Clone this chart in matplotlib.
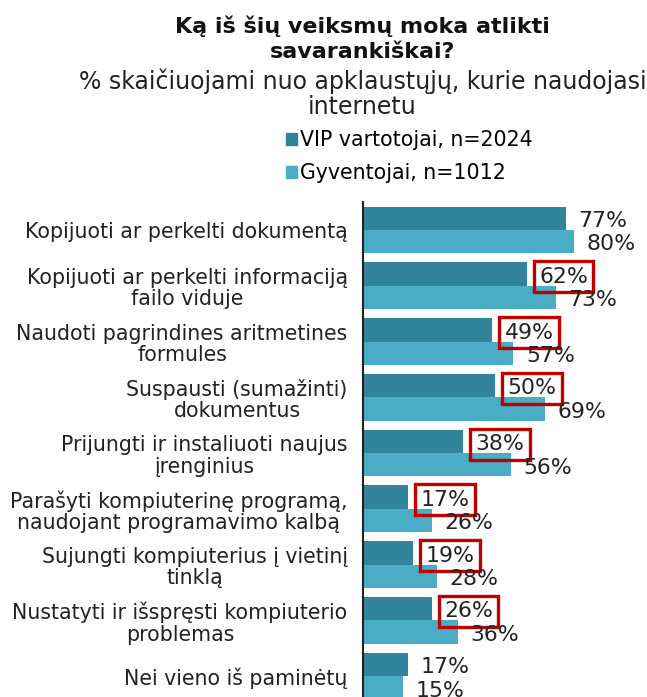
import matplotlib.pyplot as plt
import numpy as np
from matplotlib.patches import Patch

plt.rcParams['font.family'] = ['DejaVu Sans']

categories = [
    'Kopijuoti ar perkelti dokumentą',
    'Kopijuoti ar perkelti informaciją\nfailo viduje',
    'Naudoti pagrindines aritmetines\nformules',
    'Suspausti (sumažinti)\ndokumentus',
    'Prijungti ir instaliuoti naujus\nįrenginius',
    'Parašyti kompiuterinę programą,\nnaudojant programavimo kalbą',
    'Sujungti kompiuterius į vietinį\ntinklą',
    'Nustatyti ir išspręsti kompiuterio\nproblemas',
    'Nei vieno iš paminėtų',
]
vip = [77, 62, 49, 50, 38, 17, 19, 26, 17]
gyv = [80, 73, 57, 69, 56, 26, 28, 36, 15]
highlight = [False, True, True, True, True, True, True, True, False]

series_names = ['VIP vartotojai, n=2024', 'Gyventojai, n=1012']
c_vip = '#31849B'
c_gyv = '#4BACC6'
txt = '#222222'
fs = 14.8

fig = plt.figure(figsize=(6.47, 6.97), dpi=100)
ax = fig.add_axes([0.561, -0.010, 0.408, 0.720])

y = np.arange(len(categories))
h = 0.42
ax.barh(y - h / 2, vip, height=h, color=c_vip)
ax.barh(y + h / 2, gyv, height=h, color=c_gyv)

for i in range(len(categories)):
    box = None
    if highlight[i]:
        box = dict(boxstyle='square,pad=0.25', fc='none', ec='#C00000', lw=2.4)
    ax.annotate(f'{vip[i]}%', (vip[i], y[i] - h / 2), xytext=(9, -2),
                textcoords='offset points', va='center', ha='left',
                fontsize=15.8, color=txt, bbox=box)
    ax.annotate(f'{gyv[i]}%', (gyv[i], y[i] + h / 2), xytext=(9, -2),
                textcoords='offset points', va='center', ha='left',
                fontsize=15.8, color=txt)

ax.set_xlim(0, 100)
ax.set_ylim(len(categories) - 0.5, -0.5)
ax.set_yticks(y)
ax.set_yticklabels(categories, fontsize=fs, ha='right', multialignment='center',
                   linespacing=1.1, color=txt)
ax.tick_params(axis='y', length=0, pad=11)
ax.set_xticks([])
for s in ['top', 'right', 'bottom']:
    ax.spines[s].set_visible(False)
ax.spines['left'].set_linewidth(1.5)
ax.spines['left'].set_color('#222222')

fig.text(0.560, 0.944, 'Ką iš šių veiksmų moka atlikti\nsavarankiškai?', ha='center', va='center',
         fontsize=16, fontweight='bold', linespacing=1.32, color='#111111')
fig.text(0.560, 0.866, '% skaičiuojami nuo apklaustųjų, kurie naudojasi\ninternetu', ha='center', va='center',
         fontsize=17, linespacing=1.05, color=txt)

handles = [Patch(color=c_vip), Patch(color=c_gyv)]
fig.legend(handles, series_names, loc='upper left', bbox_to_anchor=(0.442, 0.813),
           frameon=False, fontsize=fs, handlelength=0.55, handleheight=0.55,
           handletextpad=0.15, labelspacing=0.62, borderpad=0, borderaxespad=0)

fig.savefig('out.png', dpi=100)
